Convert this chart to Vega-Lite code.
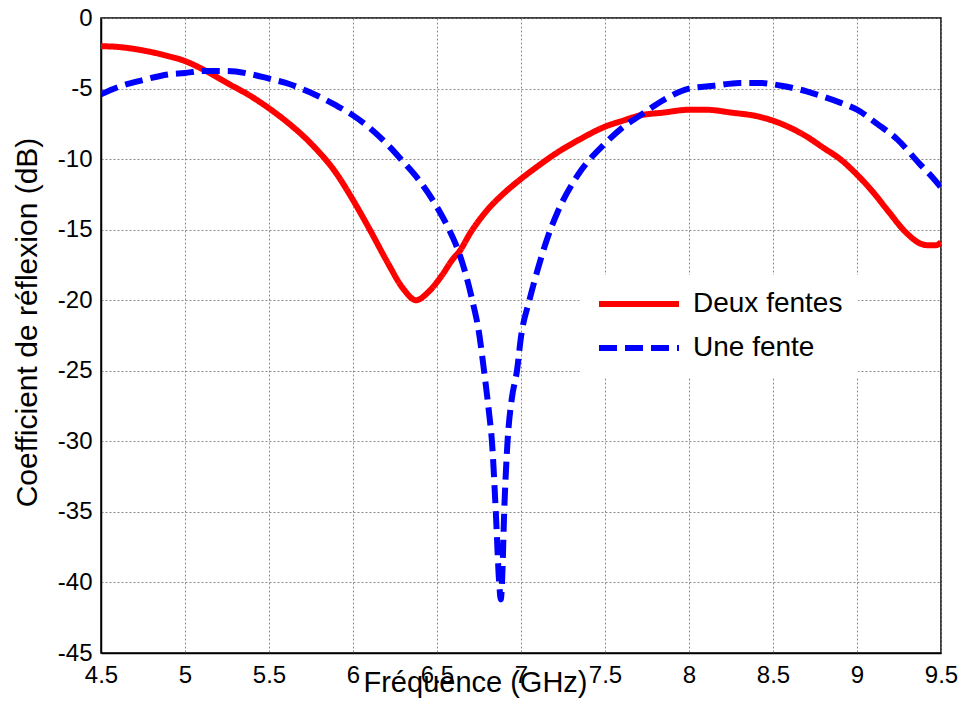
{
  "$schema": "https://vega.github.io/schema/vega-lite/v6.json",
  "width": 840,
  "height": 635,
  "autosize": {"type": "none"},
  "padding": {"left": 101, "top": 18, "right": 21, "bottom": 53},
  "background": "white",
  "config": {
    "font": "Liberation Sans",
    "view": {"stroke": "black", "strokeWidth": 1.5},
    "axis": {
      "domainColor": "black",
      "domainWidth": 1.5,
      "ticks": false,
      "gridColor": "#808080",
      "gridDash": [2, 2],
      "gridWidth": 1,
      "gridOpacity": 0.9,
      "labelFont": "Liberation Sans",
      "labelFontSize": 24,
      "labelColor": "black",
      "labelFlush": false,
      "labelOverlap": false,
      "labelBound": false,
      "titleFont": "Liberation Sans",
      "titleFontSize": 29,
      "titleFontWeight": "normal",
      "titleColor": "black"
    }
  },
  "data": {
    "values": [
      {"f": 4.5, "s": "Deux fentes", "v": -2.0},
      {"f": 4.6, "s": "Deux fentes", "v": -2.05},
      {"f": 4.75, "s": "Deux fentes", "v": -2.3},
      {"f": 4.9, "s": "Deux fentes", "v": -2.7},
      {"f": 5.0, "s": "Deux fentes", "v": -3.05},
      {"f": 5.1, "s": "Deux fentes", "v": -3.6},
      {"f": 5.25, "s": "Deux fentes", "v": -4.6},
      {"f": 5.4, "s": "Deux fentes", "v": -5.6},
      {"f": 5.5, "s": "Deux fentes", "v": -6.4},
      {"f": 5.6, "s": "Deux fentes", "v": -7.3},
      {"f": 5.75, "s": "Deux fentes", "v": -8.9},
      {"f": 5.9, "s": "Deux fentes", "v": -11.0},
      {"f": 6.0, "s": "Deux fentes", "v": -12.9},
      {"f": 6.1, "s": "Deux fentes", "v": -15.0},
      {"f": 6.2, "s": "Deux fentes", "v": -17.2},
      {"f": 6.3, "s": "Deux fentes", "v": -19.2},
      {"f": 6.375, "s": "Deux fentes", "v": -20.0},
      {"f": 6.45, "s": "Deux fentes", "v": -19.4},
      {"f": 6.52, "s": "Deux fentes", "v": -18.4},
      {"f": 6.6, "s": "Deux fentes", "v": -17.0},
      {"f": 6.63, "s": "Deux fentes", "v": -16.6},
      {"f": 6.7, "s": "Deux fentes", "v": -15.2},
      {"f": 6.8, "s": "Deux fentes", "v": -13.6},
      {"f": 6.9, "s": "Deux fentes", "v": -12.4},
      {"f": 7.0, "s": "Deux fentes", "v": -11.4},
      {"f": 7.1, "s": "Deux fentes", "v": -10.5},
      {"f": 7.22, "s": "Deux fentes", "v": -9.5},
      {"f": 7.35, "s": "Deux fentes", "v": -8.6},
      {"f": 7.5, "s": "Deux fentes", "v": -7.7},
      {"f": 7.6, "s": "Deux fentes", "v": -7.3},
      {"f": 7.71, "s": "Deux fentes", "v": -6.9},
      {"f": 7.85, "s": "Deux fentes", "v": -6.7},
      {"f": 8.0, "s": "Deux fentes", "v": -6.5},
      {"f": 8.1, "s": "Deux fentes", "v": -6.5},
      {"f": 8.25, "s": "Deux fentes", "v": -6.7},
      {"f": 8.42, "s": "Deux fentes", "v": -7.0},
      {"f": 8.55, "s": "Deux fentes", "v": -7.5},
      {"f": 8.7, "s": "Deux fentes", "v": -8.4},
      {"f": 8.8, "s": "Deux fentes", "v": -9.2},
      {"f": 8.9, "s": "Deux fentes", "v": -10.0},
      {"f": 9.0, "s": "Deux fentes", "v": -11.1},
      {"f": 9.1, "s": "Deux fentes", "v": -12.4},
      {"f": 9.18, "s": "Deux fentes", "v": -13.6},
      {"f": 9.3, "s": "Deux fentes", "v": -15.3},
      {"f": 9.38, "s": "Deux fentes", "v": -16.0},
      {"f": 9.42, "s": "Deux fentes", "v": -16.1},
      {"f": 9.47, "s": "Deux fentes", "v": -16.1},
      {"f": 9.5, "s": "Deux fentes", "v": -15.9},
      {"f": 4.5, "s": "Une fente", "v": -5.4},
      {"f": 4.6, "s": "Une fente", "v": -4.9},
      {"f": 4.75, "s": "Une fente", "v": -4.4},
      {"f": 4.9, "s": "Une fente", "v": -4.0},
      {"f": 5.0, "s": "Une fente", "v": -3.9},
      {"f": 5.1, "s": "Une fente", "v": -3.75},
      {"f": 5.25, "s": "Une fente", "v": -3.75},
      {"f": 5.4, "s": "Une fente", "v": -4.0},
      {"f": 5.5, "s": "Une fente", "v": -4.3},
      {"f": 5.6, "s": "Une fente", "v": -4.6},
      {"f": 5.75, "s": "Une fente", "v": -5.3},
      {"f": 5.9, "s": "Une fente", "v": -6.2},
      {"f": 6.0, "s": "Une fente", "v": -6.9},
      {"f": 6.1, "s": "Une fente", "v": -7.8},
      {"f": 6.2, "s": "Une fente", "v": -8.9},
      {"f": 6.3, "s": "Une fente", "v": -10.2},
      {"f": 6.4, "s": "Une fente", "v": -11.6},
      {"f": 6.5, "s": "Une fente", "v": -13.4},
      {"f": 6.58, "s": "Une fente", "v": -15.2},
      {"f": 6.63, "s": "Une fente", "v": -16.6},
      {"f": 6.71, "s": "Une fente", "v": -20.0},
      {"f": 6.75, "s": "Une fente", "v": -22.3},
      {"f": 6.78, "s": "Une fente", "v": -25.0},
      {"f": 6.81, "s": "Une fente", "v": -28.0},
      {"f": 6.827, "s": "Une fente", "v": -30.0},
      {"f": 6.85, "s": "Une fente", "v": -35.0},
      {"f": 6.87, "s": "Une fente", "v": -40.0},
      {"f": 6.88, "s": "Une fente", "v": -41.2},
      {"f": 6.887, "s": "Une fente", "v": -40.0},
      {"f": 6.9, "s": "Une fente", "v": -35.0},
      {"f": 6.92, "s": "Une fente", "v": -30.0},
      {"f": 6.945, "s": "Une fente", "v": -27.0},
      {"f": 6.976, "s": "Une fente", "v": -25.0},
      {"f": 7.0, "s": "Une fente", "v": -22.6},
      {"f": 7.05, "s": "Une fente", "v": -20.0},
      {"f": 7.1, "s": "Une fente", "v": -17.8},
      {"f": 7.16, "s": "Une fente", "v": -15.5},
      {"f": 7.22, "s": "Une fente", "v": -13.7},
      {"f": 7.34, "s": "Une fente", "v": -11.1},
      {"f": 7.5, "s": "Une fente", "v": -8.9},
      {"f": 7.6, "s": "Une fente", "v": -7.8},
      {"f": 7.71, "s": "Une fente", "v": -6.9},
      {"f": 7.85, "s": "Une fente", "v": -5.8},
      {"f": 8.0, "s": "Une fente", "v": -5.0},
      {"f": 8.15, "s": "Une fente", "v": -4.8},
      {"f": 8.3, "s": "Une fente", "v": -4.6},
      {"f": 8.42, "s": "Une fente", "v": -4.6},
      {"f": 8.55, "s": "Une fente", "v": -4.8},
      {"f": 8.7, "s": "Une fente", "v": -5.2},
      {"f": 8.78, "s": "Une fente", "v": -5.5},
      {"f": 8.9, "s": "Une fente", "v": -6.0},
      {"f": 9.0, "s": "Une fente", "v": -6.5},
      {"f": 9.12, "s": "Une fente", "v": -7.5},
      {"f": 9.24, "s": "Une fente", "v": -8.6},
      {"f": 9.37, "s": "Une fente", "v": -10.3},
      {"f": 9.45, "s": "Une fente", "v": -11.3},
      {"f": 9.5, "s": "Une fente", "v": -12.0}
    ]
  },
  "mark": {"type": "line", "strokeWidth": 6, "interpolate": "monotone", "strokeCap": "butt", "clip": true},
  "encoding": {
    "x": {
      "field": "f",
      "type": "quantitative",
      "scale": {"domain": [4.5, 9.5], "nice": false, "zero": false},
      "axis": {
        "values": [4.5, 5, 5.5, 6, 6.5, 7, 7.5, 8, 8.5, 9, 9.5],
        "labelExpr": "'' + datum.value",
        "labelPadding": 10,
        "labelBaseline": "top",
        "title": "Fréquence (GHz)",
        "titleX": 374,
        "titleY": 38,
        "titleBaseline": "alphabetic",
        "titleAnchor": null,
        "titleAlign": "center"
      }
    },
    "y": {
      "field": "v",
      "type": "quantitative",
      "scale": {"domain": [-45, 0], "nice": false, "zero": false},
      "axis": {
        "values": [-45, -40, -35, -30, -25, -20, -15, -10, -5, 0],
        "labelExpr": "'' + datum.value",
        "labelPadding": 9,
        "title": "Coefficient de réflexion (dB)",
        "titleFontSize": 30,
        "titleX": -65,
        "titleY": 304,
        "titleAngle": -90,
        "titleBaseline": "alphabetic",
        "titleAlign": "center"
      }
    },
    "color": {
      "field": "s",
      "type": "nominal",
      "scale": {"domain": ["Deux fentes", "Une fente"], "range": ["#ff0000", "#0000ff"]},
      "legend": {
        "title": null,
        "orient": "none",
        "legendX": 479,
        "legendY": 257,
        "fillColor": "white",
        "padding": 15,
        "symbolType": "M-1,0H7",
        "symbolSize": 400,
        "symbolStrokeWidth": 6,
        "symbolFillColor": "transparent",
        "labelOffset": 70,
        "labelFontSize": 28,
        "labelFont": "Liberation Sans",
        "labelColor": "black",
        "rowPadding": 16
      }
    },
    "strokeDash": {
      "field": "s",
      "type": "nominal",
      "scale": {"domain": ["Deux fentes", "Une fente"], "range": [[1, 0], [18, 8]]},
      "legend": {
        "title": null,
        "orient": "none",
        "legendX": 479,
        "legendY": 257,
        "fillColor": "white",
        "padding": 15,
        "symbolType": "M-1,0H7",
        "symbolSize": 400,
        "symbolStrokeWidth": 6,
        "symbolFillColor": "transparent",
        "labelOffset": 70,
        "labelFontSize": 28,
        "labelFont": "Liberation Sans",
        "labelColor": "black",
        "rowPadding": 16
      }
    }
  }
}
